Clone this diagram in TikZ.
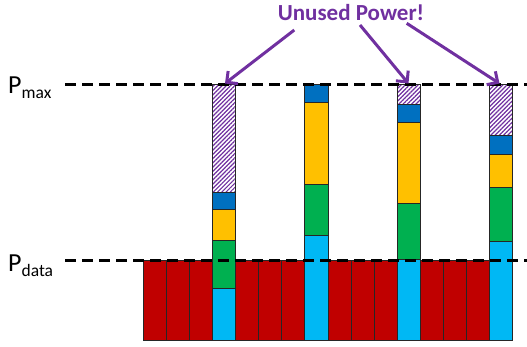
\documentclass[tikz,border=0pt]{standalone}
\usepackage{fontspec}
\setmainfont{Carlito}
\usepackage{tikz}
\usetikzlibrary{arrows.meta,patterns.meta}

\definecolor{datared}{HTML}{C00000}
\definecolor{slotcyan}{HTML}{00B8F4}
\definecolor{slotgreen}{HTML}{00B050}
\definecolor{slotyellow}{HTML}{FFC000}
\definecolor{slotblue}{HTML}{0070C0}
\definecolor{unusedpurple}{HTML}{7030A0}

\begin{document}
\begin{tikzpicture}[x=1pt,y=-1pt,
  bar/.style={draw=black!85,line width=0.9pt},
  spare/.style={bar,pattern={Lines[angle=45,distance=3pt,line width=1.2pt]},pattern color=unusedpurple},
  level/.style={line width=3pt,dash pattern=on 11pt off 6pt},
  callout/.style={-{Straight Barb[length=8pt,width=16pt]},line width=3pt,unusedpurple}]
  \useasboundingbox (0,0) rectangle (527,346);
  % data slots below P_data
  \foreach \i in {0,1,2,4,5,6,8,9,10,12,13,14}
    \filldraw[bar,fill=datared] ({143.2+23.1*\i},260) rectangle ({166.3+23.1*\i},340);
  % stack 1
  \filldraw[bar,fill=slotcyan] (212.5,340) rectangle (235.6,288);
  \filldraw[bar,fill=slotgreen] (212.5,288) rectangle (235.6,240.3);
  \filldraw[bar,fill=slotyellow] (212.5,240.3) rectangle (235.6,209.3);
  \filldraw[bar,fill=slotblue] (212.5,209.3) rectangle (235.6,192);
  \filldraw[spare] (212.5,192) rectangle (235.6,84.3);
  % stack 2
  \filldraw[bar,fill=slotcyan] (304.9,340) rectangle (328,235.7);
  \filldraw[bar,fill=slotgreen] (304.9,235.7) rectangle (328,184);
  \filldraw[bar,fill=slotyellow] (304.9,184) rectangle (328,102.3);
  \filldraw[bar,fill=slotblue] (304.9,102.3) rectangle (328,84.3);
  % stack 3
  \filldraw[bar,fill=slotcyan] (397.3,340) rectangle (420.4,259);
  \filldraw[bar,fill=slotgreen] (397.3,259) rectangle (420.4,203.7);
  \filldraw[bar,fill=slotyellow] (397.3,203.7) rectangle (420.4,122);
  \filldraw[bar,fill=slotblue] (397.3,122) rectangle (420.4,104.3);
  \filldraw[spare] (397.3,104.3) rectangle (420.4,84.3);
  % stack 4
  \filldraw[bar,fill=slotcyan] (489.7,340) rectangle (512.8,241);
  \filldraw[bar,fill=slotgreen] (489.7,241) rectangle (512.8,187.3);
  \filldraw[bar,fill=slotyellow] (489.7,187.3) rectangle (512.8,154);
  \filldraw[bar,fill=slotblue] (489.7,154) rectangle (512.8,135.7);
  \filldraw[spare] (489.7,135.7) rectangle (512.8,84.3);
  % power levels
  \coordinate (maxstart) at (65,84.3);
  \coordinate (maxend) at (527,84.3);
  \coordinate (datastart) at (65,260);
  \coordinate (dataend) at (527,260);
  \draw[level] (maxstart) -- (maxend);
  \draw[level] (datastart) -- (dataend);
  \node[anchor=base west,inner sep=0pt] (pmax) at (8,93.3)
    {\fontsize{26}{26}\selectfont P\raisebox{-5pt}{\fontsize{17.5}{17.5}\selectfont max}};
  \node[anchor=base west,inner sep=0pt] (pdata) at (8,271.5)
    {\fontsize{26}{26}\selectfont P\raisebox{-5pt}{\fontsize{17.5}{17.5}\selectfont data}};
  % callout
  \node[anchor=base,inner sep=0pt,text=unusedpurple] (unused) at (351,20)
    {\fontsize{23}{23}\selectfont\bfseries Unused Power!};
  \coordinate (from1) at (294.3,30);
  \coordinate (from2) at (360,25);
  \coordinate (from3) at (406.7,23.3);
  \coordinate (gap1) at (225,83.5);
  \coordinate (gap2) at (408.5,83.5);
  \coordinate (gap3) at (499.5,83.5);
  \draw[callout] (from1) -- (gap1);
  \draw[callout] (from2) -- (gap2);
  \draw[callout] (from3) -- (gap3);
\end{tikzpicture}
\end{document}
